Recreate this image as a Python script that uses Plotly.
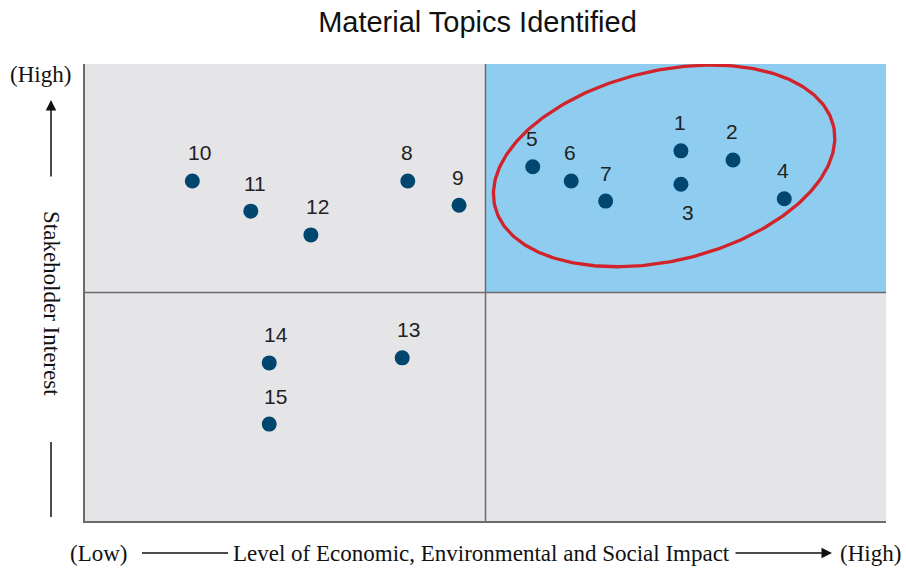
import numpy as np
import plotly.graph_objects as go

# ---- data ----
topic_ids = ["1", "2", "3", "4", "5", "6", "7", "8", "9", "10", "11", "12", "13", "14", "15"]
impact = [7.44, 8.09, 7.44, 8.73, 5.59, 6.07, 6.50, 4.03, 4.67, 1.34, 2.07, 2.82, 3.96, 2.30, 2.30]
interest = [8.10, 7.90, 7.37, 7.05, 7.75, 7.44, 7.00, 7.44, 6.91, 7.44, 6.78, 6.26, 3.57, 3.46, 2.12]
label_side = ["above", "above", "below", "above", "above", "above", "above", "above", "above",
              "above", "above", "above", "above", "above", "above"]
label_dx = [-1, -1, 7, -1, -1, -1, 0, -1, -1, 7, 4, 7, 6, 7, 6]

x_range = [0, 10]
y_range = [0, 10]
x_mid = 5
y_mid = 5

# layout geometry
W, H = 906, 568
ML, MR, MT, MB = 85, 20, 64, 47
PW = W - ML - MR
PH = H - MT - MB

DOT = "#00466f"
BLUE = "#8ecdf0"
GRAY = "#e5e5e7"
RED = "#d2232a"
LINE = "#6b6b6b"

fig = go.Figure()

# ellipse highlighting material topics (center in data units, axes in px)
ell_cx, ell_cy = 7.23, 7.77
ell_a, ell_b, ell_theta = 174.0, 95.0, np.deg2rad(13.4)
t = np.linspace(0, 2 * np.pi, 300)
px_x = ell_a * np.cos(t) * np.cos(ell_theta) - ell_b * np.sin(t) * np.sin(ell_theta)
px_y = ell_a * np.cos(t) * np.sin(ell_theta) + ell_b * np.sin(t) * np.cos(ell_theta)
ex = ell_cx + px_x / (PW / (x_range[1] - x_range[0]))
ey = ell_cy + px_y / (PH / (y_range[1] - y_range[0]))
fig.add_trace(go.Scatter(x=ex, y=ey, mode="lines", line=dict(color=RED, width=3.3),
                         hoverinfo="skip", showlegend=False))

fig.add_trace(go.Scatter(x=impact, y=interest, mode="markers",
                         marker=dict(color=DOT, size=15), text=topic_ids,
                         hovertemplate="Topic %{text}<extra></extra>", showlegend=False))

annotations = []
for tid, xv, yv, side, dx in zip(topic_ids, impact, interest, label_side, label_dx):
    annotations.append(dict(x=xv, y=yv, xref="x", yref="y", text=tid, showarrow=False,
                            xshift=dx, yshift=28 if side == "above" else -28,
                            font=dict(family="Liberation Sans, Arial, sans-serif", size=21, color="#222222")))

def px2paper(px, py):
    return (px - ML) / PW, (H - MB - py) / PH

SERIF = "Liberation Serif, Times New Roman, serif"
serif_font = dict(family=SERIF, size=23, color="#111111")

# left axis texts
x0, y0 = px2paper(40, 74)
annotations.append(dict(x=x0, y=y0, xref="paper", yref="paper", text="(High)", showarrow=False,
                        font=serif_font, xanchor="center", yanchor="middle"))
x0, y0 = px2paper(52, 303)
annotations.append(dict(x=x0, y=y0, xref="paper", yref="paper", text="Stakeholder Interest",
                        showarrow=False, textangle=90, font=serif_font,
                        xanchor="center", yanchor="middle"))
# up arrow
x0, y0 = px2paper(51, 100)
annotations.append(dict(x=x0, y=y0, xref="paper", yref="paper", text="", showarrow=True,
                        ax=0, ay=78, arrowhead=2, arrowsize=1.4, arrowwidth=1.5, arrowcolor="#111111"))

# bottom axis texts
x0, y0 = px2paper(98, 553)
annotations.append(dict(x=x0, y=y0, xref="paper", yref="paper", text="(Low)", showarrow=False,
                        font=serif_font, xanchor="center", yanchor="middle"))
x0, y0 = px2paper(481, 553)
annotations.append(dict(x=x0, y=y0, xref="paper", yref="paper",
                        text="Level of Economic, Environmental and Social Impact", showarrow=False,
                        font=serif_font, xanchor="center", yanchor="middle"))
x0, y0 = px2paper(870, 553)
annotations.append(dict(x=x0, y=y0, xref="paper", yref="paper", text="(High)", showarrow=False,
                        font=serif_font, xanchor="center", yanchor="middle"))
# right arrow
x0, y0 = px2paper(832, 553)
annotations.append(dict(x=x0, y=y0, xref="paper", yref="paper", text="", showarrow=True,
                        ax=-98, ay=0, arrowhead=2, arrowsize=1.4, arrowwidth=1.5, arrowcolor="#111111"))

shapes = [
    dict(type="rect", xref="x", yref="y", x0=x_range[0], x1=x_range[1], y0=y_range[0], y1=y_range[1],
         fillcolor=GRAY, line=dict(width=0), layer="below"),
    dict(type="rect", xref="x", yref="y", x0=x_mid, x1=x_range[1], y0=y_mid, y1=y_range[1],
         fillcolor=BLUE, line=dict(width=0), layer="below"),
    dict(type="line", xref="x", yref="y", x0=x_mid, x1=x_mid, y0=y_range[0], y1=y_range[1],
         line=dict(color=LINE, width=1.5), layer="below"),
    dict(type="line", xref="x", yref="y", x0=x_range[0], x1=x_range[1], y0=y_mid, y1=y_mid,
         line=dict(color=LINE, width=1.5), layer="below"),
]
# plain lines outside the plot
for (a, b) in [((142, 553), (228, 553)), ((51, 442), (51, 517))]:
    xa, ya = px2paper(*a)
    xb, yb = px2paper(*b)
    shapes.append(dict(type="line", xref="paper", yref="paper", x0=xa, y0=ya, x1=xb, y1=yb,
                       line=dict(color="#111111", width=1.5)))

fig.update_layout(
    width=W, height=H,
    margin=dict(l=ML, r=MR, t=MT, b=MB),
    paper_bgcolor="white", plot_bgcolor="white",
    title=dict(text="Material Topics Identified", x=0.527, xanchor="center", y=0.961, yanchor="middle",
               font=dict(family="Liberation Sans, Arial, sans-serif", size=29, color="#111111")),
    xaxis=dict(range=x_range, showgrid=False, zeroline=False, showticklabels=False, ticks="",
               showline=True, linecolor=LINE, linewidth=2, fixedrange=True),
    yaxis=dict(range=y_range, showgrid=False, zeroline=False, showticklabels=False, ticks="",
               showline=True, linecolor=LINE, linewidth=2, fixedrange=True),
    shapes=shapes,
    annotations=annotations,
)

fig.write_html("out.html", config={"displayModeBar": False})
with open("out.html", encoding="utf-8") as f:
    html = f.read()
html = html.replace("<body>", '<body style="margin:0;padding:0;overflow:hidden">', 1)
with open("out.html", "w", encoding="utf-8") as f:
    f.write(html)
